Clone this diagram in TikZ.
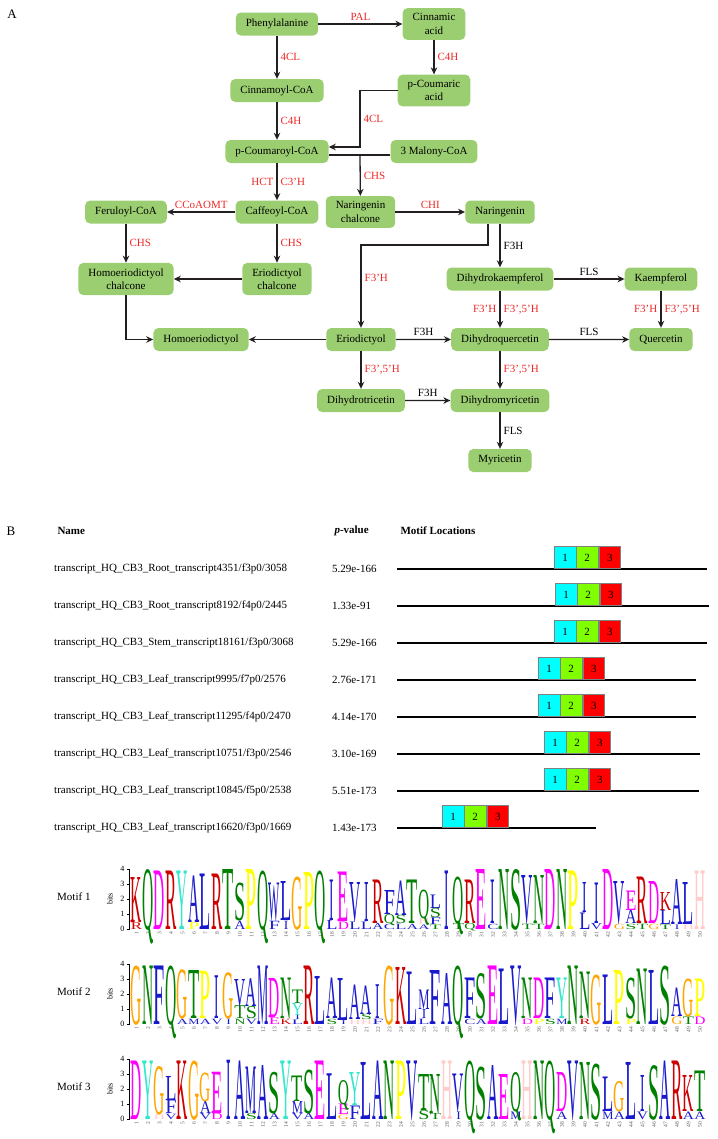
\documentclass[tikz,border=0pt]{standalone}
\usepackage{fontspec}
\setmainfont{Liberation Serif}
\usepackage{graphicx}
\usetikzlibrary{positioning,arrows.meta}

\definecolor{boxgreen}{RGB}{155,206,112}
\definecolor{arrowgray}{RGB}{35,31,32}
\definecolor{enzred}{RGB}{238,40,40}
\definecolor{mcyan}{RGB}{0,255,255}
\definecolor{mgreen}{RGB}{127,255,0}
\definecolor{mred}{RGB}{255,0,0}
% logo letter colours
\definecolor{aaA}{RGB}{25,25,204}
\definecolor{aaC}{RGB}{25,25,204}
\definecolor{aaF}{RGB}{25,25,204}
\definecolor{aaI}{RGB}{25,25,204}
\definecolor{aaL}{RGB}{25,25,204}
\definecolor{aaM}{RGB}{25,25,204}
\definecolor{aaV}{RGB}{25,25,204}
\definecolor{aaW}{RGB}{25,25,204}
\definecolor{aaN}{RGB}{0,128,0}
\definecolor{aaQ}{RGB}{0,128,0}
\definecolor{aaS}{RGB}{0,128,0}
\definecolor{aaT}{RGB}{0,128,0}
\definecolor{aaD}{RGB}{255,0,255}
\definecolor{aaE}{RGB}{255,0,255}
\definecolor{aaK}{RGB}{204,0,0}
\definecolor{aaR}{RGB}{204,0,0}
\definecolor{aaH}{RGB}{255,204,204}
\definecolor{aaG}{RGB}{255,165,0}
\definecolor{aaP}{RGB}{255,255,0}
\definecolor{aaY}{RGB}{51,230,204}

\tikzstyle{compound} = [
rectangle,
rounded corners=5bp,
inner xsep=10bp,
inner ysep=5.5bp,
minimum height=23bp,
align=center,
fill=boxgreen
]
\tikzstyle{enzyme} = [
text=enzred,
inner sep=3bp
]
\tikzstyle{enzymek} = [
text=black,
inner sep=3bp
]
\tikzstyle{arrow} = [
line width=1.3bp,
draw=arrowgray,
->,
>={Stealth[length=7bp,width=6.5bp]}
]
\tikzstyle{link} = [
line width=1.3bp,
draw=arrowgray
]
\tikzstyle{panel} = [
font=\fontsize{13bp}{15bp}\selectfont
]
\tikzstyle{header} = [
anchor=west,
font=\fontsize{11bp}{13bp}\selectfont\bfseries
]
\tikzstyle{seqname} = [
anchor=west,
inner sep=0
]
\tikzstyle{seqline} = [
line width=1.4bp,
draw=black
]
\tikzstyle{motifbox} = [
rectangle,
draw=gray,
line width=0.6bp,
minimum width=21.5bp,
minimum height=22bp,
inner sep=0
]
\tikzstyle{logo} = [
anchor=base,
inner sep=0,
outer sep=0
]
\tikzstyle{axisline} = [
line width=0.7bp,
draw=black
]
\tikzstyle{axisnum} = [
anchor=east,
inner sep=1bp,
font=\fontsize{8bp}{9bp}\selectfont
]
\tikzstyle{posnum} = [
rotate=90,
anchor=east,
inner sep=0,
text=black!65,
font=\fontsize{5.5bp}{6bp}\selectfont
]

\newlength{\bitht}
\setlength{\bitht}{15bp}

% one stacked column of a logo: base y, column, stack (bottom to top)
\newcommand{\logocol}[3]{%
  \gdef\lgcum{0}%
  \pgfmathsetmacro\lgx{136.5+11.5*(#2-1)}%
  \foreach \ltr/\hgt in #3{%
    \pgfmathsetmacro\lgy{#1-15*\lgcum}%
    \def\lgw{11.2bp}\if I\ltr\def\lgw{4.5bp}\fi
    \node[logo, text=aa\ltr] (lg#1-#2\ltr) at (\lgx,\lgy) {\resizebox{\lgw}{\hgt\bitht}{\ltr}};%
    \pgfmathsetmacro\lgnew{\lgcum+\hgt}\xdef\lgcum{\lgnew}%
  }}

% axis, labels and positions of a logo: base y, motif number
\newcommand{\logoaxis}[2]{%
  \node[anchor=west, inner sep=0] (motif#2) at (57,#1-32) {Motif #2};
  \node[rotate=90, inner sep=0, font=\fontsize{8bp}{9bp}\selectfont] (bits#2) at (110,#1-30) {bits};
  \draw[axisline] (129.5,#1) -- (129.5,#1-60);
  \foreach \k in {0,...,4}{
    \draw[axisline] (126.5,#1-15*\k) -- (129.5,#1-15*\k);
    \node[axisnum] (ax#2\k) at (125.5,#1-15*\k) {\k};
  }
  \foreach \c in {1,...,50}{
    \pgfmathsetmacro\lgx{136.5+11.5*(\c-1)}
    \node[posnum] (pos#2-\c) at (\lgx,#1+3) {\c};
  }}

\begin{document}
\begin{tikzpicture}[
x=1bp,
y=-1bp,
font=\fontsize{11bp}{13.5bp}\selectfont
]
\useasboundingbox (0,0) rectangle (718,1139);

% Panel A
\node (panela) [panel] at (12,14) {A};

\node (phenylalanine) [compound] at (277,24) {Phenylalanine};
\node (cinnamic) [compound] at (434,24) {Cinnamic\\acid};
\node (cinnamoyl) [compound] at (277,90.5) {Cinnamoyl-CoA};
\node (coumaric) [compound] at (434,90.5) {p-Coumaric\\acid};
\node (coumaroyl) [compound] at (277,151.5) {p-Coumaroyl-CoA};
\node (malonyl) [compound] at (434,151.5) {3 Malony-CoA};
\node (caffeoyl) [compound] at (277,212) {Caffeoyl-CoA};
\node (feruloyl) [compound] at (126,212) {Feruloyl-CoA};
\node (chalcone) [compound] at (360.5,212) {Naringenin\\chalcone};
\node (naringenin) [compound] at (500,212) {Naringenin};
\node (homochalcone) [compound] at (126,279) {Homoeriodictyol\\chalcone};
\node (eriochalcone) [compound] at (277,279) {Eriodictyol\\chalcone};
\node (dihydrokaempferol) [compound] at (500,279) {Dihydrokaempferol};
\node (kaempferol) [compound] at (661,279) {Kaempferol};
\node (homoeriodictyol) [compound] at (201,339.5) {Homoeriodictyol};
\node (eriodictyol) [compound] at (361,339.5) {Eriodictyol};
\node (dihydroquercetin) [compound, below of=dihydrokaempferol, node distance=60.5bp] {Dihydroquercetin};
\node (quercetin) [compound] at (661,339.5) {Quercetin};
\node (dihydrotricetin) [compound, below of=eriodictyol, node distance=61bp] {Dihydrotricetin};
\node (dihydromyricetin) [compound, below of=dihydroquercetin, node distance=61bp] {Dihydromyricetin};
\node (myricetin) [compound, below of=dihydromyricetin, node distance=60bp] {Myricetin};

\coordinate (jcoum) at (360,147);
\coordinate (jmal) at (360,155);
\coordinate (jnar) at (488,245);

% Arrows
\draw [arrow] (phenylalanine) -- node[enzyme, above] {PAL} (cinnamic);
\draw [arrow] (cinnamic) -- node[enzyme, right] {C4H} (coumaric);
\draw [arrow] (phenylalanine) -- node[enzyme, right] {4CL} (cinnamoyl);
\draw [arrow] (cinnamoyl) -- node[enzyme, right] {C4H} (coumaroyl);
\draw [arrow] (coumaric) -| node[enzyme, pos=0.75, right] {4CL} (jcoum) -- (coumaroyl.east |- jcoum);
\draw [link] (malonyl.west |- jmal) -- (coumaroyl.east |- jmal);
\draw [arrow] (jmal) -- node[enzyme, right] {CHS} (chalcone);
\draw [arrow] (coumaroyl) -- node[enzyme, left] {HCT} node[enzyme, right] {C3’H} (caffeoyl);
\draw [arrow] (caffeoyl) -- node[enzyme, above] {CCoAOMT} (feruloyl);
\draw [arrow] (chalcone) -- node[enzyme, above] {CHI} (naringenin);
\draw [arrow] (feruloyl) -- node[enzyme, right] {CHS} (homochalcone);
\draw [arrow] (caffeoyl) -- node[enzyme, right] {CHS} (eriochalcone);
\draw [arrow] (eriochalcone) -- (homochalcone);
\draw [arrow] (homochalcone) |- (homoeriodictyol);
\draw [arrow] (eriodictyol) -- (homoeriodictyol);
\draw [arrow] (naringenin.south -| jnar) -- (jnar) -| node[enzyme, pos=0.7, right] {F3’H} (eriodictyol);
\draw [arrow] (naringenin) -- node[enzymek, right] {F3H} (dihydrokaempferol);
\draw [arrow] (dihydrokaempferol) -- node[enzymek, above] {FLS} (kaempferol);
\draw [arrow] (dihydrokaempferol) -- node[enzyme, left] {F3’H} node[enzyme, right] {F3’,5’H} (dihydroquercetin);
\draw [arrow] (kaempferol) -- node[enzyme, left] {F3’H} node[enzyme, right] {F3’,5’H} (quercetin);
\draw [arrow] (eriodictyol) -- node[enzymek, above] {F3H} (dihydroquercetin);
\draw [arrow] (dihydroquercetin) -- node[enzymek, above] {FLS} (quercetin);
\draw [arrow] (eriodictyol) -- node[enzyme, right] {F3’,5’H} (dihydrotricetin);
\draw [arrow] (dihydroquercetin) -- node[enzyme, right] {F3’,5’H} (dihydromyricetin);
\draw [arrow] (dihydrotricetin) -- node[enzymek, above] {F3H} (dihydromyricetin);
\draw [arrow] (dihydromyricetin) -- node[enzymek, right] {FLS} (myricetin);

% Panel B
\node (panelb) [panel] at (11,531) {B};
\node (hname) [header] at (54,531) {Name};
\node (hpval) [header] at (331,531) {\textit{p}-value};
\node (hloc) [header] at (397,531) {Motif Locations};

\foreach \r/\yy/\mx/\lx/\pv/\nm in {
1/569/554/707/5.29e-166/{Root\_transcript4351/f3p0/3058},
2/606/555/709/1.33e-91/{Root\_transcript8192/f4p0/2445},
3/643/554/707/5.29e-166/{Stem\_transcript18161/f3p0/3068},
4/680/538/696/2.76e-171/{Leaf\_transcript9995/f7p0/2576},
5/717/538/696/4.14e-170/{Leaf\_transcript11295/f4p0/2470},
6/754/544/700/3.10e-169/{Leaf\_transcript10751/f3p0/2546},
7/791/544/699/5.51e-173/{Leaf\_transcript10845/f5p0/2538},
8/828/442/596/1.43e-173/{Leaf\_transcript16620/f3p0/1669}}
{
\node (name\r) [seqname] at (54,\yy) {transcript\_HQ\_CB3\_\nm};
\node (pval\r) [seqname] at (332,\yy) {\pv};
\coordinate (ls\r) at (397,\yy);
\coordinate (le\r) at (\lx,\yy);
\draw [seqline] (ls\r) -- (le\r);
\node (ma\r) [motifbox, fill=mcyan, anchor=south west] at (\mx,\yy) {1};
\node (mb\r) [motifbox, fill=mgreen, right=0pt of ma\r] {2};
\node (mc\r) [motifbox, fill=mred, right=0.5bp of mb\r] {3};
}

% Motif logos
\logoaxis{929}{1}
\foreach \stk [count=\c] in {
{R/.45,K/3.0},{Q/4.0},{D/3.9},{R/3.9},{Y/3.9},{P/.45,A/3.1},{L/3.7},{R/3.7},{T/4.0},{A/.55,S/2.5},
{P/4.0},{Q/3.9},{F/.55,W/2.5},{I/.55,L/2.6},{G/3.5},{P/3.8},{Q/3.9},{L/.6,I/2.7},{D/.5,E/3.3},{L/.5,V/2.6},
{L/.5,I/2.6},{A/.4,R/2.9},{C/.35,Q/.6,F/1.6},{L/.35,S/.55,A/2.3},{A/.35,T/2.9},{A/.3,H/.4,Q/1.9},{T/.3,F/.45,S/.6,L/.9},{I/3.9},{T/.4,Q/3.1},{Q/.4,R/2.9},
{E/4.0},{C/.35,I/2.9},{N/4.0},{S/4.0},{T/.35,V/3.2},{T/.35,N/3.2},{D/4.0},{N/4.0},{P/3.9},{L/1.1,I/2.0},
{V/.4,I/2.7},{D/4.0},{G/.35,V/2.8},{S/.35,A/.9,E/1.3},{T/.35,R/3.1},{G/.35,D/2.8},{T/.3,L/.95,K/1.2},{I/.3,A/3.0},{H/.3,L/2.8},{H/3.9}}
{\logocol{929}{\c}{\stk}}

\logoaxis{1024}{2}
\foreach \stk [count=\c] in {
{G/3.9},{N/3.9},{F/3.9},{Q/3.9},{A/.35,G/3.25},{M/.35,T/3.2},{A/.35,P/3.15},{V/.35,I/2.85},{I/.35,G/3.05},{N/.35,T/.85,V/1.8},
{V/.35,S/.8,A/1.85},{M/3.9},{E/.45,D/2.6},{K/.35,N/2.7},{L/.3,I/.3,Y/.8,T/.9},{R/3.9},{L/3.2},{S/.35,A/2.7},{I/.25,L/2.8},{H/.3,A/2.3},
{H/.3,S/.35,A/1.9},{F/.35,I/2.25},{G/3.9},{K/3.8},{L/3.5},{L/.35,I/.6,M/1.3},{F/3.6},{A/3.4},{Q/3.9},{C/.35,F/2.7},
{A/.35,S/3.0},{E/3.9},{L/3.7},{V/3.9},{D/.35,N/2.7},{P/.35,D/2.7},{S/.35,F/2.7},{M/.35,Y/2.7},{N/3.9},{R/.35,N/3.1},
{G/3.3},{L/3.3},{P/3.6},{P/.35,S/2.7},{N/3.7},{L/3.6},{S/3.9},{G/.5,A/1.9},{T/.5,G/2.5},{D/.5,P/2.5}}
{\logocol{1024}{\c}{\stk}}

\logoaxis{1119}{3}
\foreach \stk [count=\c] in {
{D/3.9},{Y/3.9},{H/.3,G/3.2},{V/.35,F/.9,L/1.6},{K/3.9},{G/3.9},{V/.4,A/.8,G/1.9},{D/.4,E/2.75},{I/3.95},{A/3.9},
{S/.4,M/3.1},{A/3.6},{A/.4,S/2.75},{Y/3.9},{V/.4,M/.8,T/1.7},{A/.4,S/2.9},{E/3.9},{L/3.05},{G/.3,E/.7,Q/1.6},{F/.9,Y/2.2},
{L/3.8},{A/3.9},{N/3.9},{P/3.9},{V/3.9},{S/.6,T/2.4},{T/.4,N/2.6},{H/3.9},{I/.5,V/2.5},{Q/3.9},
{S/3.5},{A/3.6},{E/3.0},{M/.5,Q/2.6},{H/3.9},{N/3.9},{Q/3.9},{A/.5,D/2.6},{V/3.9},{N/3.8},
{S/3.7},{M/.5,L/2.3},{A/.5,G/2.0},{L/3.8},{V/.5,I/2.4},{S/3.6},{A/3.9},{R/3.9},{A/.5,K/2.4},{A/.5,T/2.7}}
{\logocol{1119}{\c}{\stk}}

\end{tikzpicture}
\end{document}
